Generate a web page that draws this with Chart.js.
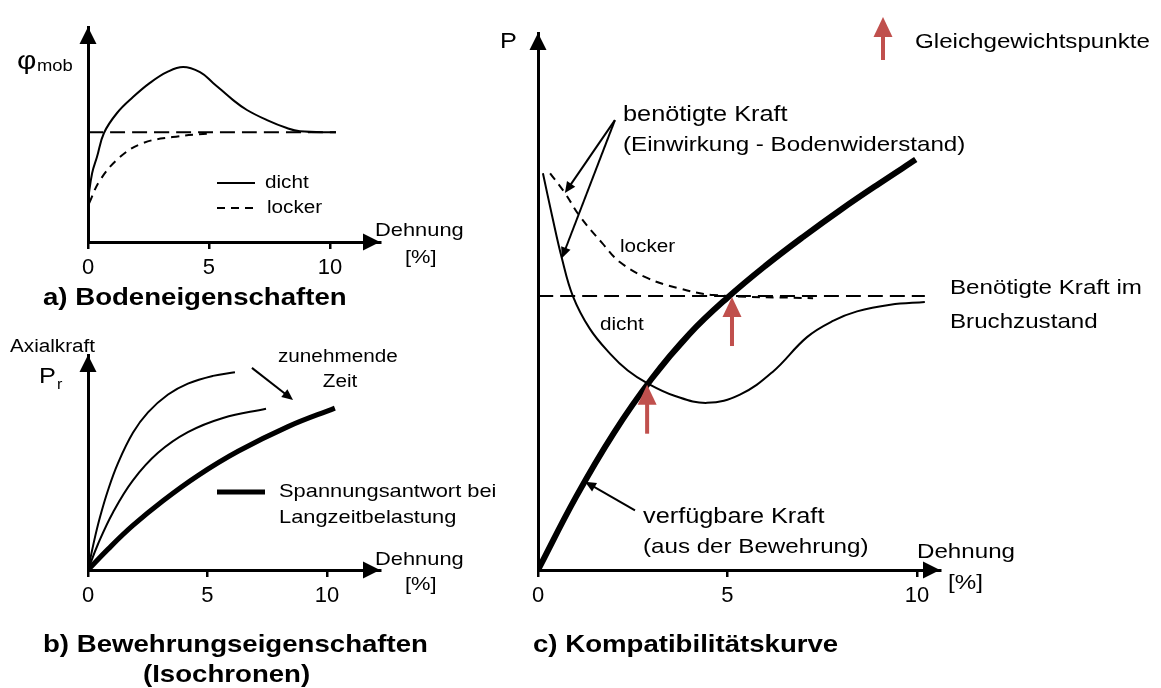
<!DOCTYPE html>
<html>
<head>
<meta charset="utf-8">
<script src="https://cdn.jsdelivr.net/npm/chart.js@4.4.1/dist/chart.umd.min.js"></script>
<style>
  body { margin: 0; background: #fff; width: 1161px; height: 688px; position: relative; overflow: hidden; }
  .panel { position: absolute; }
</style>
</head>
<body>
<div class="panel" style="left:0;top:0;width:480px;height:320px"><canvas id="soil"></canvas></div>
<div class="panel" style="left:0;top:330px;width:520px;height:358px"><canvas id="reinf"></canvas></div>
<div class="panel" style="left:480px;top:0;width:681px;height:688px"><canvas id="compat"></canvas></div>
<script>
const FONT = '"Liberation Sans", Arial, sans-serif';
const STRETCH = 1.15;
const RED = '#c0504d';
const LONG_DASH = [15, 7];
const SHORT_DASH = [8, 6];

const xTicks = [0, 5, 10];

// a) Bodeneigenschaften: phi_mob über Dehnung [%]
const soilDense = [[0, 1.95], [0.17, 3.2], [0.37, 3.95], [0.66, 5.07], [1.2, 6.0], [1.86, 6.74], [2.56, 7.4], [3.26, 7.9],
  [3.93, 8.14], [4.63, 7.9], [5.17, 7.4], [6.0, 6.6], [6.57, 6.14], [7.4, 5.67], [8.22, 5.3], [8.76, 5.15], [10.25, 5.1]];
const soilLoose = [[0.05, 1.81], [0.5, 2.88], [1.32, 3.95], [2.27, 4.6], [3.5, 4.88], [5.0, 5.05]];
const soilCritical = [[0, 5.1], [10.25, 5.1]];

// b) Isochronen der Bewehrung: Axialkraft über Dehnung [%]
const isoShort = [[0, 0], [0.25, 1.32], [0.5, 2.45], [0.84, 3.72], [1.26, 4.98], [1.88, 6.38], [2.51, 7.33],
  [3.35, 8.16], [4.18, 8.67], [5.23, 9.03], [6.15, 9.2]];
const isoMid = [[0, 0], [0.42, 1.21], [1.05, 2.69], [1.88, 4.17], [2.93, 5.45], [4.18, 6.41], [5.65, 7.07], [7.45, 7.5]];
const isoLong = [[0, 0], [0.84, 0.97], [1.88, 2.07], [3.14, 3.22], [4.6, 4.39], [6.28, 5.52], [8.37, 6.67], [10.33, 7.53]];
const timeArrow = [[6.86, 9.4], [8.58, 7.91]];

// c) Kompatibilitätskurve: Kraft P über Dehnung [%]
const requiredDense = [[0.13, 7.24], [0.37, 6.47], [0.63, 5.69], [0.92, 5.0], [1.37, 4.4], [1.9, 3.95], [2.37, 3.64],
  [2.88, 3.41], [3.6, 3.18], [4.46, 3.05], [5.33, 3.2], [6.2, 3.62], [7.1, 4.25], [7.8, 4.55], [8.42, 4.72],
  [9.3, 4.84], [10.21, 4.89]];
const requiredLoose = [[0.32, 7.24], [0.71, 6.88], [1.11, 6.45], [1.69, 5.97], [2.16, 5.62], [2.88, 5.33],
  [3.67, 5.15], [4.62, 5.02], [7.26, 4.96]];
const requiredFailure = [[0, 5.0], [10.21, 5.0]];
const available = [[0, 0], [1, 1.33], [2, 2.5], [3, 3.49], [4, 4.31], [5, 4.97], [6, 5.55], [7, 6.08],
  [8, 6.58], [9, 7.05], [9.97, 7.49]];
const equilibrium = [[2.88, 3.4], [5.12, 5.0]];
const requiredPointer = [[2.03, 8.21], [0.71, 6.88], [0.63, 5.69]];
const availablePointer = [[2.56, 1.09], [1.24, 1.61]];

Chart.defaults.font.family = FONT;
Chart.defaults.color = '#000';

function curve(points, width, dash) {
  return {
    data: points.map(([x, y]) => ({ x, y })),
    borderColor: '#000',
    borderWidth: width,
    borderDash: dash || [],
    borderCapStyle: 'butt',
    pointRadius: 0,
    tension: 0.4,
    fill: false
  };
}

function text(ctx, str, x, y, size, opts = {}) {
  ctx.save();
  ctx.font = (opts.bold ? 'bold ' : '') + size + 'px ' + FONT;
  ctx.fillStyle = '#000';
  ctx.textBaseline = 'middle';
  ctx.textAlign = opts.align || 'left';
  ctx.translate(x, y);
  ctx.scale(STRETCH, 1);
  ctx.fillText(str, 0, 0);
  ctx.restore();
}

function line(ctx, x1, y1, x2, y2, width, dash) {
  ctx.save();
  ctx.strokeStyle = '#000';
  ctx.lineWidth = width;
  ctx.setLineDash(dash || []);
  ctx.beginPath();
  ctx.moveTo(x1, y1);
  ctx.lineTo(x2, y2);
  ctx.stroke();
  ctx.restore();
}

// filled head with its tip at (x2, y2)
function head(ctx, x1, y1, x2, y2, len, half, color) {
  const ang = Math.atan2(y2 - y1, x2 - x1);
  ctx.save();
  ctx.fillStyle = color || '#000';
  ctx.translate(x2, y2);
  ctx.rotate(ang);
  ctx.beginPath();
  ctx.moveTo(0, 0);
  ctx.lineTo(-len, -half);
  ctx.lineTo(-len, half);
  ctx.closePath();
  ctx.fill();
  ctx.restore();
}

function pointer(ctx, x1, y1, x2, y2) {
  const ang = Math.atan2(y2 - y1, x2 - x1);
  line(ctx, x1, y1, x2 - Math.cos(ang) * 8, y2 - Math.sin(ang) * 8, 2);
  head(ctx, x1, y1, x2, y2, 11, 5);
}

function redArrow(ctx, x, tipY, length) {
  ctx.save();
  ctx.fillStyle = RED;
  ctx.fillRect(x - 2, tipY + 18, 4, length - 18);
  ctx.restore();
  head(ctx, x, tipY + 10, x, tipY, 20, 9.5, RED);
}

function axisArrows(ctx, a) {
  head(ctx, a.right - 10, a.bottom, a.right, a.bottom, 17, 8.5);
  head(ctx, a.left, a.top + 10, a.left, a.top, 17, 8.5);
}

function scales(xMax, yMax) {
  return {
    x: {
      type: 'linear', min: 0, max: xMax,
      afterBuildTicks: s => { s.ticks = xTicks.map(v => ({ value: v })); },
      afterFit: s => { s.height = 34; },
      grid: { display: true, drawOnChartArea: false, drawTicks: true, tickLength: 7, color: '#000', lineWidth: 2.5 },
      border: { display: true, color: '#000', width: 3 },
      ticks: { color: '#000', font: { size: 22 }, padding: 6, maxRotation: 0, autoSkip: false }
    },
    y: {
      type: 'linear', min: 0, max: yMax,
      afterFit: s => { s.width = 0; },
      grid: { display: false },
      ticks: { display: false },
      border: { display: true, color: '#000', width: 3 }
    }
  };
}

function makeChart(id, datasets, xMax, yMax, padding, notes) {
  return new Chart(document.getElementById(id), {
    type: 'line',
    data: { datasets },
    options: {
      responsive: true,
      maintainAspectRatio: false,
      animation: false,
      events: [],
      layout: { padding },
      plugins: { legend: { display: false }, tooltip: { enabled: false } },
      scales: scales(xMax, yMax)
    },
    plugins: [{ id: id + 'Notes', afterDraw: notes }]
  });
}

// a) Bodeneigenschaften
makeChart('soil', [
  curve(soilCritical, 2, LONG_DASH),
  curve(soilLoose, 2, SHORT_DASH),
  curve(soilDense, 2)
], 12.07, 10, { left: 88, top: 27, right: 100, bottom: 44 }, chart => {
  const ctx = chart.ctx, a = chart.chartArea;
  axisArrows(ctx, a);
  text(ctx, 'φ', 17, 62, 26);
  text(ctx, 'mob', 37, 67, 16);
  line(ctx, 217, 183, 255, 183, 2);
  text(ctx, 'dicht', 265, 183, 18);
  line(ctx, 217, 208, 255, 208, 2, SHORT_DASH);
  text(ctx, 'locker', 267, 208, 18);
  text(ctx, 'Dehnung', 375, 231, 19);
  text(ctx, '[%]', 405, 258, 19);
  text(ctx, 'a) Bodeneigenschaften', 43, 298, 24, { bold: true });
});

// b) Bewehrungseigenschaften
makeChart('reinf', [
  curve(isoShort, 2),
  curve(isoMid, 2),
  curve(isoLong, 5)
], 12.22, 10, { left: 88, top: 25, right: 140, bottom: 84 }, chart => {
  const ctx = chart.ctx, a = chart.chartArea, { x, y } = chart.scales;
  axisArrows(ctx, a);
  text(ctx, 'Axialkraft', 10, 17, 18);
  text(ctx, 'P', 39, 47, 22);
  text(ctx, 'r', 57, 55, 14);
  text(ctx, 'zunehmende', 278, 27, 18);
  text(ctx, 'Zeit', 340, 52, 18, { align: 'center' });
  const [t0, t1] = timeArrow;
  pointer(ctx, x.getPixelForValue(t0[0]), y.getPixelForValue(t0[1]), x.getPixelForValue(t1[0]), y.getPixelForValue(t1[1]));
  line(ctx, 217, 162, 265, 162, 5);
  text(ctx, 'Spannungsantwort bei', 279, 162, 19);
  text(ctx, 'Langzeitbelastung', 279, 188, 19);
  text(ctx, 'Dehnung', 375, 230, 19);
  text(ctx, '[%]', 405, 255, 19);
  text(ctx, 'b) Bewehrungseigenschaften', 43, 315, 24, { bold: true });
  text(ctx, '(Isochronen)', 143, 345, 24, { bold: true });
});

// c) Kompatibilitätskurve
makeChart('compat', [
  curve(requiredFailure, 2, LONG_DASH),
  curve(requiredLoose, 2, SHORT_DASH),
  curve(requiredDense, 2),
  curve(available, 6)
], 10.61, 9.8, { left: 58, top: 33, right: 221, bottom: 84 }, chart => {
  const ctx = chart.ctx, a = chart.chartArea, { x, y } = chart.scales;
  const px = p => [x.getPixelForValue(p[0]), y.getPixelForValue(p[1])];
  axisArrows(ctx, a);
  text(ctx, 'P', 20, 42, 22);

  redArrow(ctx, 403, 17, 43);
  text(ctx, 'Gleichgewichtspunkte', 435, 42, 21);

  text(ctx, 'benötigte Kraft', 143, 115, 22);
  text(ctx, '(Einwirkung - Bodenwiderstand)', 143, 145, 21);
  const [from, ...targets] = requiredPointer.map(px);
  targets.forEach(t => pointer(ctx, from[0], from[1], t[0], t[1]));

  text(ctx, 'locker', 140, 247, 18);
  text(ctx, 'dicht', 120, 325, 18);
  text(ctx, 'Benötigte Kraft im', 470, 288, 21);
  text(ctx, 'Bruchzustand', 470, 322, 21);

  text(ctx, 'verfügbare Kraft', 163, 517, 22);
  text(ctx, '(aus der Bewehrung)', 163, 547, 21);
  const [v0, v1] = availablePointer.map(px);
  pointer(ctx, v0[0], v0[1], v1[0], v1[1]);

  equilibrium.map(px).forEach(([ex, ey]) => redArrow(ctx, ex, ey + 1, 49));

  text(ctx, 'Dehnung', 437, 552, 21);
  text(ctx, '[%]', 468, 583, 21);
  text(ctx, 'c) Kompatibilitätskurve', 53, 645, 24, { bold: true });
});
</script>
</body>
</html>
